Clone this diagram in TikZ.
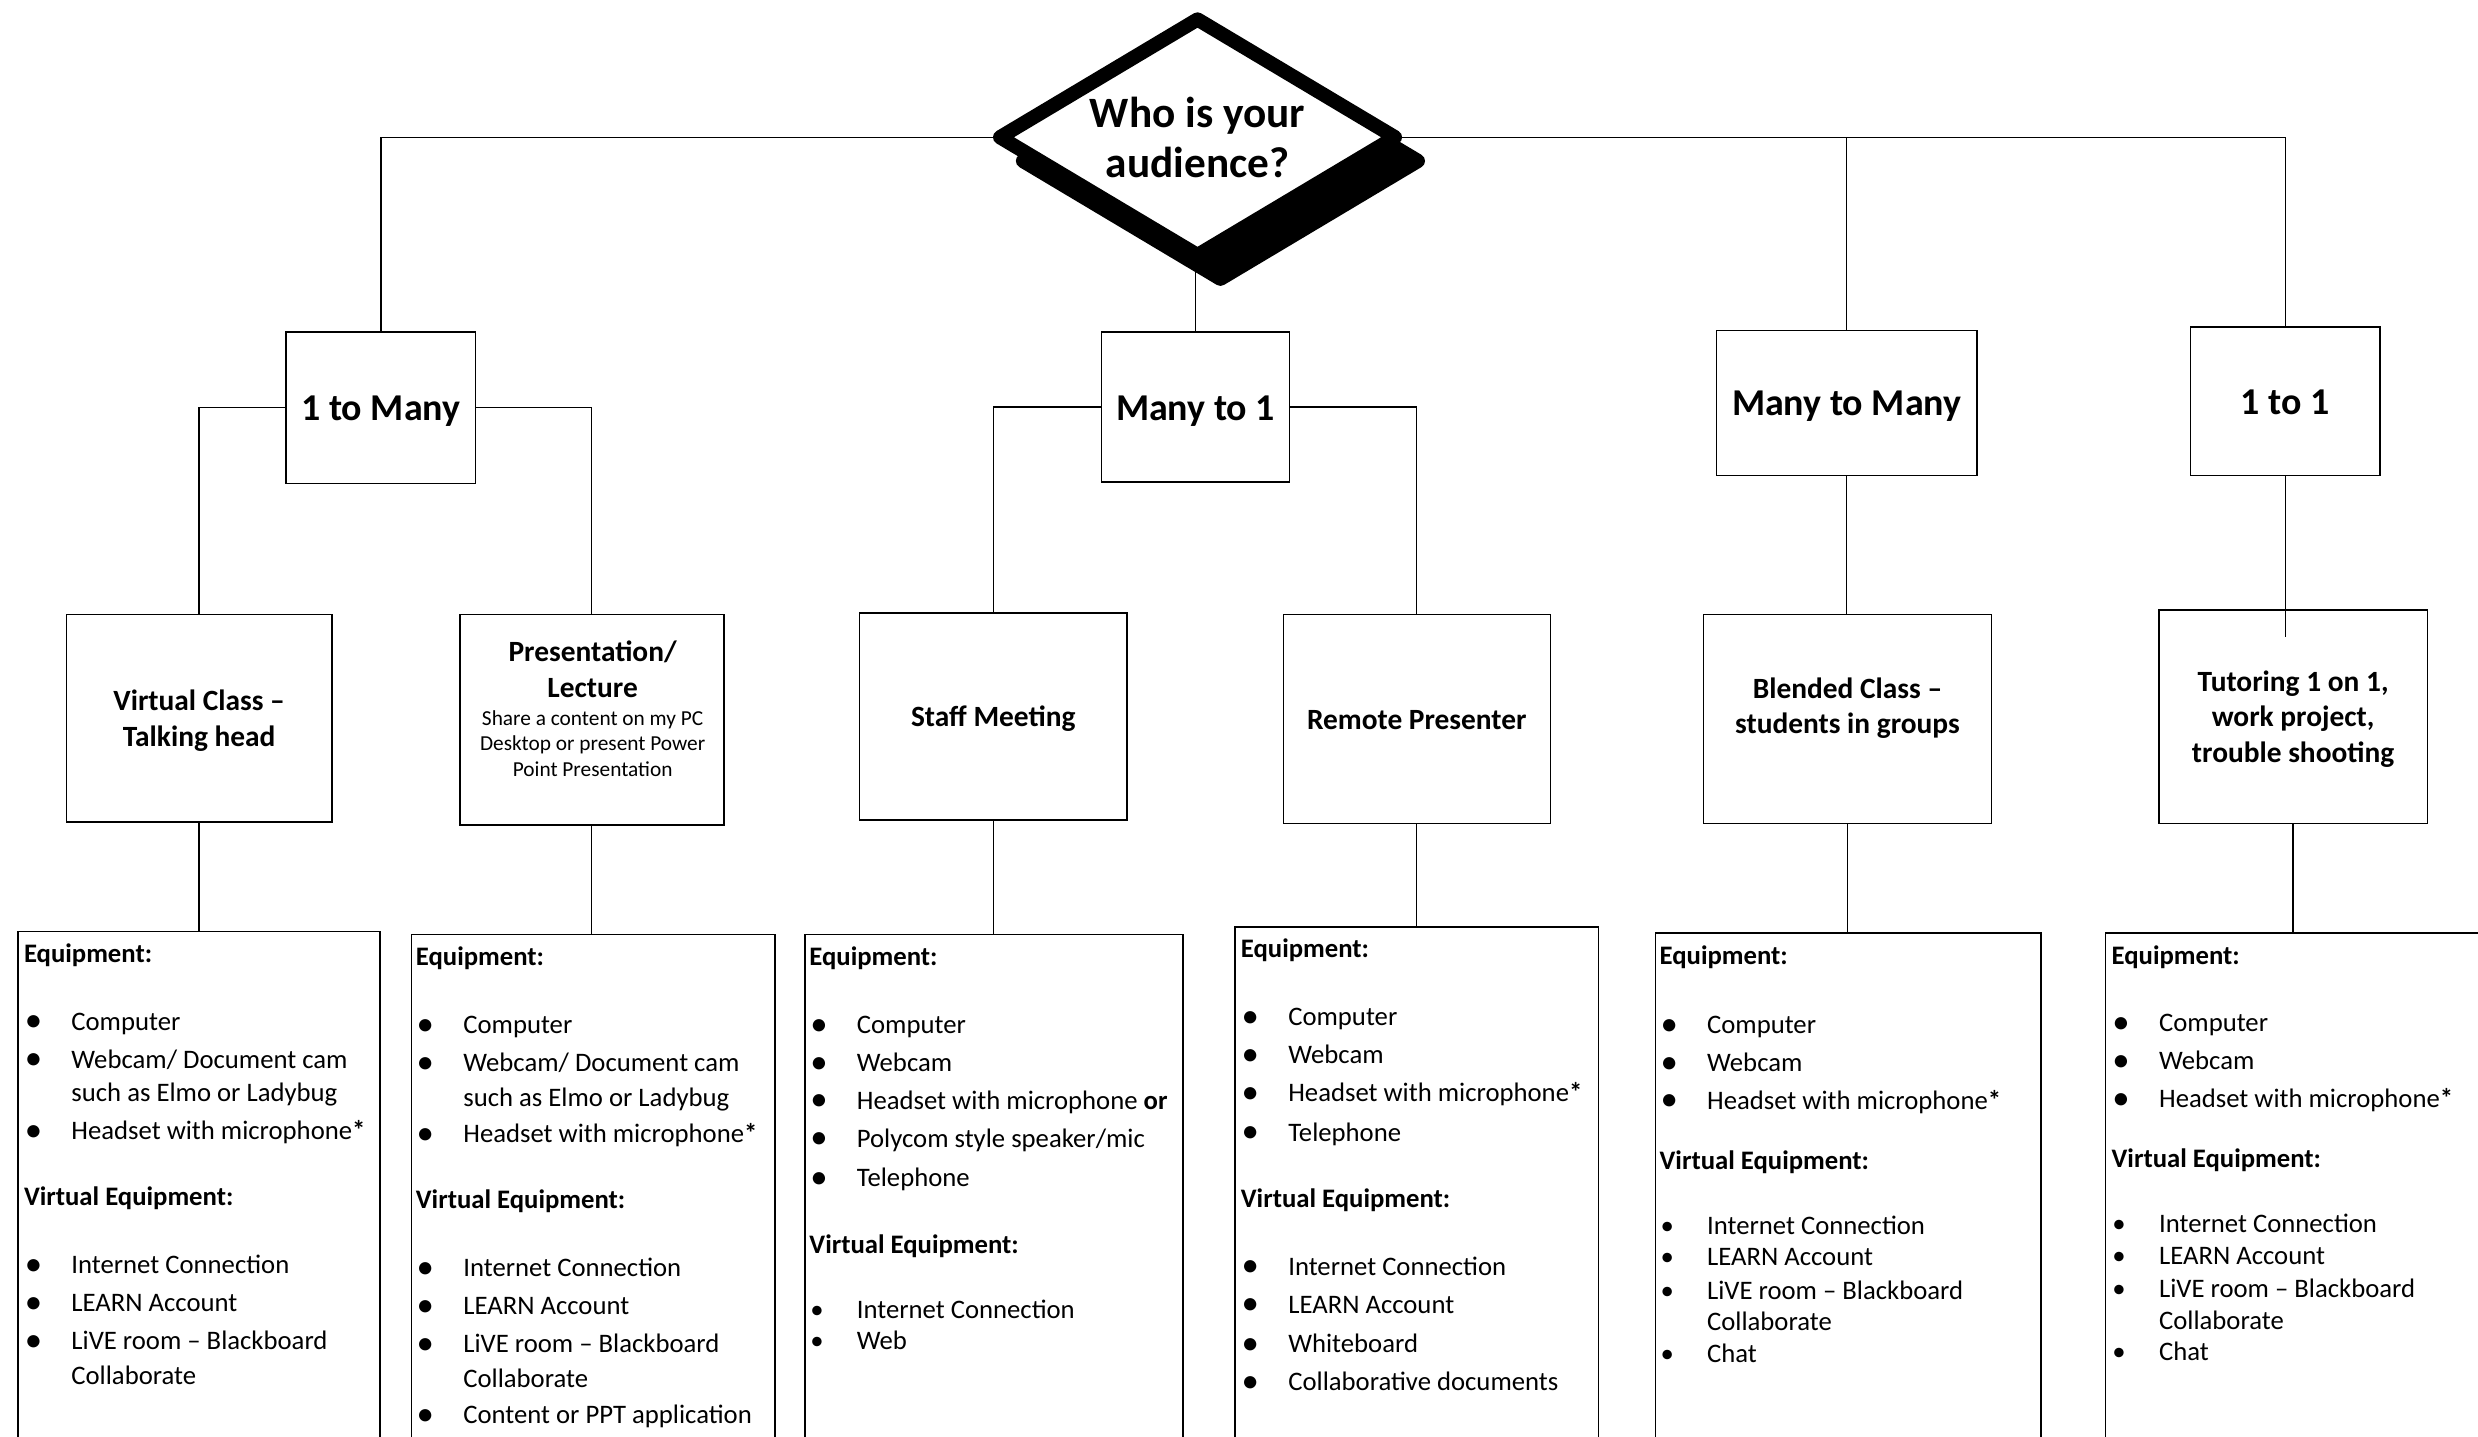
\documentclass[tikz,border=0pt]{standalone}
\usepackage{fontspec}
\setmainfont{Carlito}
\newcommand\bul{\makebox[30pt][l]{\hspace{0.5pt}\raisebox{-1pt}{\fontsize{22}{20}\selectfont\textbullet}}}
\newcommand\sbul{\makebox[30pt][l]{\hspace{0.5pt}\textbullet}}
\newcommand\ind{\hspace*{30pt}}
\newcommand\bstar{\textbf{*}}
\begin{document}
\begin{tikzpicture}[x=1pt,y=-1pt,
  box/.style={draw, line width=0.9pt, fill=white, inner sep=0pt, rectangle},
  conn/.style={line width=0.8pt},
  t1/.style={font=\fontsize{24}{28}\selectfont\bfseries, inner sep=0pt, anchor=base},
  t2/.style={font=\fontsize{18.6}{22.3}\selectfont\bfseries, align=center, inner sep=0pt},
  t3/.style={font=\fontsize{13.5}{16}\selectfont, align=center, inner sep=0pt},
  eqtext/.style={font=\fontsize{16.9}{20}\selectfont, inner sep=0pt, anchor=base west},
  eqbox/.style={box, anchor=north west, minimum height=400pt}]
\fill[white] (0,0) rectangle (1568,909);
\useasboundingbox (0,0) rectangle (1568,909);
\clip (0,0) rectangle (1568,909);

% diamond geometry
\coordinate (dc) at (757.75,86.85);
\coordinate (dL) at (632.8,86.85);
\coordinate (dT) at (757.75,12.3);
\coordinate (dR) at (882.7,86.85);
\coordinate (dB) at (757.75,161.4);

% level 1 boxes
\node[box, minimum width=120pt, minimum height=96pt] (oneMany) at (241,258) {};
\node[box, minimum width=119pt, minimum height=95pt] (manyOne) at (756.5,257.5) {};
\node[box, minimum width=165pt, minimum height=92pt] (manyMany) at (1168.5,255) {};
\node[box, minimum width=120pt, minimum height=94pt] (oneOne) at (1446,254) {};

% connectors from the diamond
\draw[conn] (dL) -| (oneMany.north);
\draw[conn] (dR) -| (manyMany.north);
\draw[conn] (dR) -| (oneOne.north);
\draw[conn] (manyOne.north) -- (manyOne.north |- dB);

% shadow and diamond
\filldraw[line width=9pt, line join=round]
  ([shift={(14.5,15)}]dL) -- ([shift={(14.5,15)}]dT) -- ([shift={(14.5,15)}]dR) -- ([shift={(14.5,15)}]dB) -- cycle;
\draw[line width=9pt, line join=round, fill=white] (dL) -- (dT) -- (dR) -- (dB) -- cycle;
\node[font=\fontsize{27.4}{31.6}\selectfont\bfseries, align=center, inner sep=0pt] (aud) at (dc) {Who is your\\audience?};

% level 1 texts
\node[t1] (oneManyT) at (241,266) {1 to Many};
\node[t1] (manyOneT) at (756.5,266) {Many to 1};
\node[t1] (manyManyT) at (1168.5,263) {Many to Many};
\node[t1] (oneOneT) at (1446,262) {1 to 1};

% level 2 boxes
\node[box, minimum width=168pt, minimum height=131pt] (vclass) at (126,454.5) {};
\node[box, minimum width=167pt, minimum height=133pt] (pres) at (374.5,455.5) {};
\node[box, minimum width=169pt, minimum height=131pt] (staff) at (628.5,453.5) {};
\node[box, minimum width=169pt, minimum height=132pt] (remote) at (896.5,455) {};
\node[box, minimum width=182pt, minimum height=132pt] (blend) at (1169,455) {};
\node[box, minimum width=170pt, minimum height=135pt] (tut) at (1451,453.5) {};

\node[t2] (vclassT) at (126,456) {Virtual Class –\\Talking head};
\node[t2] (presT) at (375,423.5) {Presentation/\\Lecture};
\node[t3] (presS) at (375,470.5) {Share a content on my PC\\Desktop or present Power\\Point Presentation};
\node[t2] (staffT) at (628.5,455) {Staff Meeting};
\node[t2] (remoteT) at (896.5,455.5) {Remote Presenter};
\node[t2] (blendT) at (1169,448) {Blended Class –\\students in groups};
\node[t2] (tutT) at (1451,455) {Tutoring 1 on 1,\\work project,\\trouble shooting};

% connectors level 1 -> level 2
\draw[conn] (oneMany.west) -| (vclass.north);
\draw[conn] (oneMany.east) -| (pres.north);
\draw[conn] (manyOne.west) -| (staff.north);
\draw[conn] (manyOne.east) -| (remote.north);
\draw[conn] (manyMany.south) -- (manyMany.south |- blend.north);
\coordinate (tutIn) at (1446,403);
\draw[conn] (oneOne.south) -- (tutIn);

% equipment boxes
\node[eqbox, minimum width=229pt] (eq1) at (11,589) {};
\node[eqbox, minimum width=230pt] (eq2) at (260,591) {};
\node[eqbox, minimum width=239pt] (eq3) at (509,591) {};
\node[eqbox, minimum width=230pt] (eq4) at (781,586) {};
\node[eqbox, minimum width=244pt] (eq5) at (1047,590) {};
\node[eqbox, minimum width=260pt] (eq6) at (1332,590) {};

% connectors level 2 -> level 3
\draw[conn] (vclass.south) -- (vclass.south |- eq1.north);
\draw[conn] (pres.south) -- (pres.south |- eq2.north);
\draw[conn] (staff.south) -- (staff.south |- eq3.north);
\draw[conn] (remote.south) -- (remote.south |- eq4.north);
\draw[conn] (blend.south) -- (blend.south |- eq5.north);
\draw[conn] (tut.south) -- (tut.south |- eq6.north);

% equipment texts
\node[eqtext] (eq1t) at (15,609) {\parbox[t]{300pt}{\raggedright
\textbf{Equipment:}\\[23pt]
\bul Computer\\[4pt]
\bul Webcam/ Document cam\\[1pt]
\ind such as Elmo or Ladybug\\[4pt]
\bul Headset with microphone\bstar\\[22pt]
\textbf{Virtual Equipment:}\\[23pt]
\bul Internet Connection\\[4pt]
\bul LEARN Account\\[4pt]
\bul LiVE room – Blackboard\\[2pt]
\ind Collaborate}};

\node[eqtext] (eq2t) at (263,611) {\parbox[t]{300pt}{\raggedright
\textbf{Equipment:}\\[23pt]
\bul Computer\\[4pt]
\bul Webcam/ Document cam\\[2pt]
\ind such as Elmo or Ladybug\\[3pt]
\bul Headset with microphone\bstar\\[22pt]
\textbf{Virtual Equipment:}\\[23pt]
\bul Internet Connection\\[4pt]
\bul LEARN Account\\[4pt]
\bul LiVE room – Blackboard\\[2pt]
\ind Collaborate\\[3pt]
\bul Content or PPT application}};

\node[eqtext] (eq3t) at (512,611) {\parbox[t]{300pt}{\raggedright
\textbf{Equipment:}\\[23pt]
\bul Computer\\[4pt]
\bul Webcam\\[4pt]
\bul Headset with microphone \textbf{or}\\[4pt]
\bul Polycom style speaker/mic\\[5pt]
\bul Telephone\\[22pt]
\textbf{Virtual Equipment:}\\[21pt]
\sbul Internet Connection\\
\sbul Web}};

\node[eqtext] (eq4t) at (785,606) {\parbox[t]{300pt}{\raggedright
\textbf{Equipment:}\\[23pt]
\bul Computer\\[4pt]
\bul Webcam\\[4pt]
\bul Headset with microphone\bstar\\[5pt]
\bul Telephone\\[22pt]
\textbf{Virtual Equipment:}\\[23pt]
\bul Internet Connection\\[4pt]
\bul LEARN Account\\[5pt]
\bul Whiteboard\\[4pt]
\bul Collaborative documents}};

\node[eqtext] (eq5t) at (1050,610) {\parbox[t]{300pt}{\raggedright
\textbf{Equipment:}\\[24pt]
\bul Computer\\[4pt]
\bul Webcam\\[4pt]
\bul Headset with microphone\bstar\\[18pt]
\textbf{Virtual Equipment:}\\[21pt]
\sbul Internet Connection\\
\sbul LEARN Account\\[1pt]
\sbul LiVE room – Blackboard\\
\ind Collaborate\\
\sbul Chat}};

\node[eqtext] (eq6t) at (1336,610) {\parbox[t]{300pt}{\raggedright
\textbf{Equipment:}\\[23pt]
\bul Computer\\[4pt]
\bul Webcam\\[4pt]
\bul Headset with microphone\bstar\\[18pt]
\textbf{Virtual Equipment:}\\[21pt]
\sbul Internet Connection\\
\sbul LEARN Account\\[1pt]
\sbul LiVE room – Blackboard\\
\ind Collaborate\\
\sbul Chat}};
\end{tikzpicture}
\end{document}
